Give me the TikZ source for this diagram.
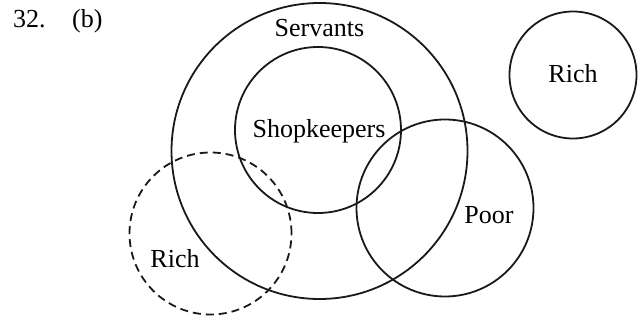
\documentclass[tikz,border=0pt]{standalone}
\usepackage{fontspec}
\setmainfont{Liberation Serif}
\begin{document}
\begin{tikzpicture}[x=1pt,y=-1pt,
  ring/.style={circle,draw=black!90,line width=1.8pt,inner sep=0pt},
  dashring/.style={ring,dash pattern=on 8pt off 5pt},
  lbl/.style={anchor=base,inner sep=0pt,font=\fontsize{26}{31}\selectfont}]
\useasboundingbox (0,0) rectangle (642,320);
\node[ring,minimum size=296pt] (servants) at (319.5,151) {};
\node[ring,minimum size=166pt] (shop) at (318,130) {};
\node[ring,minimum size=177pt] (poor) at (445,208) {};
\node[ring,minimum size=127pt] (rich1) at (573,75) {};
\node[dashring,minimum size=162pt] (rich2) at (210.5,233.5) {};
\node[lbl] (tservants) at (319.5,37) {Servants};
\node[lbl] (tshop) at (319,138) {Shopkeepers};
\node[lbl] (tpoor) at (489,224) {Poor};
\node[lbl] (trich1) at (573,83) {Rich};
\node[lbl] (trich2) at (175,267) {Rich};
\node[lbl,anchor=base west] (num) at (13,28) {32.};
\node[lbl,anchor=base west] (opt) at (72,28) {(b)};
\end{tikzpicture}
\end{document}
